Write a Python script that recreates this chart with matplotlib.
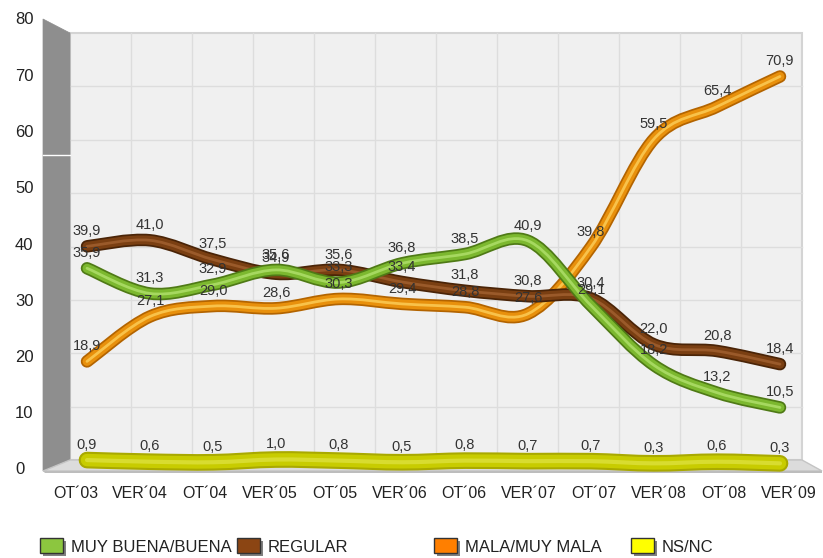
import matplotlib.pyplot as plt
from matplotlib.path import Path
from matplotlib.patches import PathPatch, Polygon, Rectangle
import numpy as np

plt.rcParams['font.family'] = ['Liberation Sans', 'DejaVu Sans']

categories = ["OT´03", "VER´04", "OT´04", "VER´05", "OT´05", "VER´06",
              "OT´06", "VER´07", "OT´07", "VER´08", "OT´08", "VER´09"]
buena = [35.9, 31.3, 32.9, 35.6, 33.3, 36.8, 38.5, 40.9, 29.1, 18.2, 13.2, 10.5]
regular = [39.9, 41.0, 37.5, 34.9, 35.6, 33.4, 31.8, 30.8, 30.4, 22.0, 20.8, 18.4]
mala = [18.9, 27.1, 29.0, 28.6, 30.3, 29.4, 28.8, 27.6, 39.8, 59.5, 65.4, 70.9]
nsnc = [0.9, 0.6, 0.5, 1.0, 0.8, 0.5, 0.8, 0.7, 0.7, 0.3, 0.6, 0.3]
yticks = [0, 10, 20, 30, 40, 50, 60, 70, 80]

names = ["MUY BUENA/BUENA", "REGULAR", "MALA/MUY MALA", "NS/NC"]
legend_colors = ["#8cc63f", "#8b4513", "#ff7f00", "#ffff00"]

W, H = 823, 558
fig = plt.figure(figsize=(W / 100, H / 100), dpi=100)
ax = fig.add_axes([0, 0, 1, 1])
ax.axis("off")

# pixel layout of the pseudo 3D scene (mid plane where the lines sit)
X0, DX = 87.0, 63.0
Y0, DY = 465.0, 5.48
ax.set_xlim(-X0 / DX, (W - X0) / DX)
ax.set_ylim((Y0 - H) / DY, Y0 / DY)


def px(x, y):
    return ((x - X0) / DX, (Y0 - y) / DY)


# back wall
bx0, bx1, by0, by1 = 70, 802, 33, 460
ax.add_patch(Polygon([px(bx0, by1), px(bx1, by1), px(bx1, by0), px(bx0, by0)],
                     closed=True, fc="#f0f0f0", ec="#d4d4d4", lw=1.5, zorder=1))
for v in yticks[1:-1]:
    yy = by1 - (by1 - by0) * v / 80
    ax.plot(*zip(px(bx0, yy), px(bx1, yy)), color="#dddddd", lw=1, zorder=1.5)
slot = (bx1 - bx0) / len(categories)
for k in range(1, len(categories)):
    xx = bx0 + slot * k
    ax.plot(*zip(px(xx, by0), px(xx, by1)), color="#dddddd", lw=1, zorder=1.5)

# left wall
ax.add_patch(Polygon([px(43, 19), px(70, 33), px(70, 460), px(43, 471)],
                     closed=True, fc="#8e8e8e", ec="#8e8e8e", lw=0.5, zorder=2))
ax.plot(*zip(px(43, 155), px(70, 155)), color="white", lw=1, zorder=2.1)

# floor
ax.add_patch(Polygon([px(43, 471), px(70, 460), px(802, 460), px(822, 471)],
                     closed=True, fc="#dcdcdc", ec="#c4c4c4", lw=1, zorder=2))
ax.add_patch(Polygon([px(43, 471), px(822, 471), px(822, 473), px(45, 473)],
                     closed=True, fc="#bdbdbd", ec="none", zorder=2))


def smooth_path(xs, ys):
    pts = np.column_stack([xs, ys]).astype(float)
    n = len(pts)
    verts = [pts[0]]
    codes = [Path.MOVETO]
    for i in range(n - 1):
        p0 = pts[max(i - 1, 0)]
        p1 = pts[i]
        p2 = pts[i + 1]
        p3 = pts[min(i + 2, n - 1)]
        c1 = p1 + (p2 - p0) / 6
        c2 = p2 - (p3 - p1) / 6
        verts += [c1, c2, p2]
        codes += [Path.CURVE4] * 3
    return Path(verts, codes)


xs = np.arange(len(categories))
series = [
    (nsnc, ["#a9a900", "#c8cc00", "#d8dc30"], [12, 9, 3], 3),
    (mala, ["#b36400", "#e8900c", "#f8c24a"], [9, 6.5, 2], 4),
    (regular, ["#4a2407", "#7a3f12", "#9a5a2a"], [9, 6.5, 2], 5),
    (buena, ["#4f7a16", "#7cb82f", "#a6d860"], [9, 6.5, 2], 6),
]
for vals, cols, widths, z in series:
    path = smooth_path(xs, vals)
    for c, lw in zip(cols, widths):
        ax.add_patch(PathPatch(path, fill=False, ec=c, lw=lw,
                               capstyle="round", joinstyle="round", zorder=z))

label_font = dict(fontsize=10.5, color="#333333", ha="center", va="center", zorder=8)
for vals in [buena, regular, mala, nsnc]:
    for i, v in enumerate(vals):
        ax.annotate(f"{v:.1f}".replace(".", ","), (i, v), xytext=(0, 11),
                    textcoords="offset points", **label_font)

# y axis labels on the front plane
for v in yticks:
    ax.text(*px(15, 470 - 5.625 * v), str(v), fontsize=12, color="#222222",
            ha="left", va="center")

# category labels
for i, c in enumerate(categories):
    ax.text(*px(75.5 + 64.8 * i, 493), c, fontsize=11.5, color="#222222",
            ha="center", va="center")

# legend
for i, (nm, col) in enumerate(zip(names, legend_colors)):
    lx = 40 + 197 * i
    ax.add_patch(Polygon([px(lx + 3, 556), px(lx + 26, 556), px(lx + 26, 541),
                          px(lx + 3, 541)], closed=True, fc="#808080", ec="none", zorder=9))
    ax.add_patch(Polygon([px(lx, 553), px(lx + 23, 553), px(lx + 23, 538),
                          px(lx, 538)], closed=True, fc=col, ec="#333333", lw=1, zorder=10))
    ax.text(*px(lx + 31, 548), nm, fontsize=12, color="#222222", ha="left", va="center")

fig.savefig("out.png", dpi=100)
